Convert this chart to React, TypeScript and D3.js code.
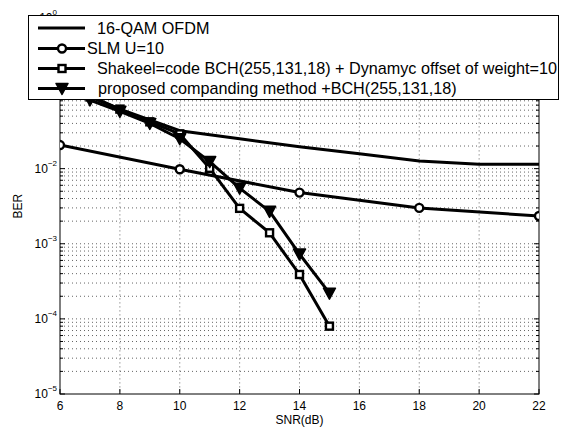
import React, { useEffect, useRef } from 'react';
import * as d3 from 'd3';

// SNR values (dB) per series
const snrOfdm = [6, 8, 10, 12, 14, 16, 18, 20, 22];
const snrSlm = [6, 10, 14, 18, 22];
const snrCoded = [7, 8, 9, 10, 11, 12, 13, 14, 15];

// BER values
const berOfdm = [0.14, 0.062, 0.032, 0.025, 0.0196, 0.0158, 0.0126, 0.0114, 0.0114];
const berSlm = [0.0206, 0.0098, 0.0048, 0.003, 0.00234];
const berShakeel = [0.09, 0.062, 0.042, 0.029, 0.0101, 0.00296, 0.0014, 0.00039, 0.00008];
const berProposed = [0.082, 0.058, 0.04, 0.025, 0.0124, 0.0055, 0.0027, 0.00073, 0.00022];

const legendLabels = [
  '16-QAM OFDM',
  'SLM U=10',
  'Shakeel=code BCH(255,131,18) + Dynamyc offset of weight=10',
  'proposed companding method +BCH(255,131,18)',
];

const xTicks = [6, 8, 10, 12, 14, 16, 18, 20, 22];
const yExponents = [0, -1, -2, -3, -4, -5];

const App = () => {
  const svgRef = useRef(null);

  useEffect(() => {
    const width = 566;
    const height = 430;
    const left = 60, right = 539, top = 18.4, bottom = 394;
    const font = 'Liberation Sans, Arial, Helvetica, sans-serif';

    const root = d3.select(svgRef.current);
    root.selectAll('*').remove();
    root.attr('width', width).attr('height', height);

    root.append('rect').attr('width', width).attr('height', height).attr('fill', '#fff');

    const x = d3.scaleLinear().domain([6, 22]).range([left, right]);
    const y = d3.scaleLog().domain([1e-5, 1]).range([bottom, top]);

    // minor log values
    const minors = [];
    for (let e = -5; e < 0; e++) {
      for (let m = 2; m <= 9; m++) minors.push(m * Math.pow(10, e));
    }
    const majors = yExponents.map(e => Math.pow(10, e));

    // grid
    const grid = root.append('g')
      .attr('stroke', '#333')
      .attr('stroke-width', 1)
      .attr('stroke-dasharray', '1,3')
      .attr('opacity', 0.75);

    xTicks.slice(1, -1).forEach(t => {
      grid.append('line')
        .attr('x1', x(t)).attr('x2', x(t))
        .attr('y1', top).attr('y2', bottom);
    });
    minors.concat(majors.slice(1, -1)).forEach(v => {
      grid.append('line')
        .attr('x1', left).attr('x2', right)
        .attr('y1', y(v)).attr('y2', y(v));
    });

    // ticks (inward, both sides)
    const ticks = root.append('g').attr('stroke', '#000').attr('stroke-width', 1);
    xTicks.forEach(t => {
      ticks.append('line').attr('x1', x(t)).attr('x2', x(t)).attr('y1', bottom).attr('y2', bottom - 5);
      ticks.append('line').attr('x1', x(t)).attr('x2', x(t)).attr('y1', top).attr('y2', top + 5);
    });
    majors.forEach(v => {
      ticks.append('line').attr('x1', left).attr('x2', left + 5).attr('y1', y(v)).attr('y2', y(v));
      ticks.append('line').attr('x1', right).attr('x2', right - 5).attr('y1', y(v)).attr('y2', y(v));
    });
    minors.forEach(v => {
      ticks.append('line').attr('x1', left).attr('x2', left + 3).attr('y1', y(v)).attr('y2', y(v));
      ticks.append('line').attr('x1', right).attr('x2', right - 3).attr('y1', y(v)).attr('y2', y(v));
    });

    // frame
    root.append('rect')
      .attr('x', left).attr('y', top)
      .attr('width', right - left).attr('height', bottom - top)
      .attr('fill', 'none').attr('stroke', '#000').attr('stroke-width', 1);

    // tick labels
    root.append('g').selectAll('text')
      .data(xTicks)
      .join('text')
      .attr('x', d => x(d))
      .attr('y', bottom + 16)
      .attr('text-anchor', 'middle')
      .attr('font-family', font)
      .attr('font-size', 12)
      .text(d => d);

    yExponents.forEach(e => {
      const t = root.append('text')
        .attr('x', left - 3)
        .attr('y', y(Math.pow(10, e)) + 4)
        .attr('text-anchor', 'end')
        .attr('font-family', font)
        .attr('font-size', 12);
      t.append('tspan').text('10');
      t.append('tspan').attr('dy', -7).attr('font-size', 8).text(e === 0 ? '0' : '\u2212' + (-e));
    });

    // axis labels
    root.append('text')
      .attr('x', (left + right) / 2)
      .attr('y', 424)
      .attr('text-anchor', 'middle')
      .attr('font-family', font)
      .attr('font-size', 12)
      .text('SNR(dB)');

    root.append('text')
      .attr('transform', `translate(22,${(top + bottom) / 2}) rotate(-90)`)
      .attr('text-anchor', 'middle')
      .attr('font-family', font)
      .attr('font-size', 12)
      .text('BER');

    // series
    const series = [
      { xs: snrOfdm, ys: berOfdm, marker: 'none' },
      { xs: snrSlm, ys: berSlm, marker: 'circle' },
      { xs: snrCoded, ys: berShakeel, marker: 'square' },
      { xs: snrCoded, ys: berProposed, marker: 'triangle' },
    ];

    root.append('defs').append('clipPath').attr('id', 'plotClip')
      .append('rect')
      .attr('x', left).attr('y', top)
      .attr('width', right - left).attr('height', bottom - top);

    const plot = root.append('g').attr('clip-path', 'url(#plotClip)');

    const line = d3.line()
      .x(d => x(d[0]))
      .y(d => y(d[1]));

    const drawMarker = (g, kind, cx, cy) => {
      if (kind === 'circle') {
        g.append('circle').attr('cx', cx).attr('cy', cy).attr('r', 4)
          .attr('fill', '#fff').attr('stroke', '#000').attr('stroke-width', 2.4);
      } else if (kind === 'square') {
        g.append('rect').attr('x', cx - 3.5).attr('y', cy - 3.5).attr('width', 7).attr('height', 7)
          .attr('fill', '#fff').attr('stroke', '#000').attr('stroke-width', 2.4);
      } else if (kind === 'triangle') {
        g.append('path')
          .attr('d', `M${cx - 6},${cy - 5}L${cx + 6},${cy - 5}L${cx},${cy + 6}Z`)
          .attr('fill', '#000').attr('stroke', '#000').attr('stroke-width', 1.5)
          .attr('stroke-linejoin', 'round');
      }
    };

    series.forEach(s => {
      const pts = s.xs.map((v, i) => [v, s.ys[i]]);
      plot.append('path')
        .datum(pts)
        .attr('fill', 'none')
        .attr('stroke', '#000')
        .attr('stroke-width', 3)
        .attr('stroke-linejoin', 'round')
        .attr('d', line);
      pts.forEach(p => drawMarker(plot, s.marker, x(p[0]), y(p[1])));
    });

    // legend
    const lg = root.append('g');
    lg.append('rect')
      .attr('x', 28.5).attr('y', 15.5)
      .attr('width', 530).attr('height', 84)
      .attr('fill', '#fff').attr('stroke', '#000').attr('stroke-width', 1);

    const legendRows = [28, 48.5, 68.5, 88.5];
    const legendTextX = [97, 87, 97, 98];
    legendLabels.forEach((label, i) => {
      const ly = legendRows[i];
      lg.append('line')
        .attr('x1', 38).attr('x2', 85)
        .attr('y1', ly).attr('y2', ly)
        .attr('stroke', '#000').attr('stroke-width', 3);
      drawMarker(lg, series[i].marker, 62, ly);
      lg.append('text')
        .attr('x', legendTextX[i])
        .attr('y', ly + 5.5)
        .attr('font-family', font)
        .attr('font-size', 16.2)
        .text(label);
    });
  }, []);

  return (
    <svg ref={svgRef} style={{ position: 'absolute', left: 0, top: 0 }}></svg>
  );
};

export default App;
